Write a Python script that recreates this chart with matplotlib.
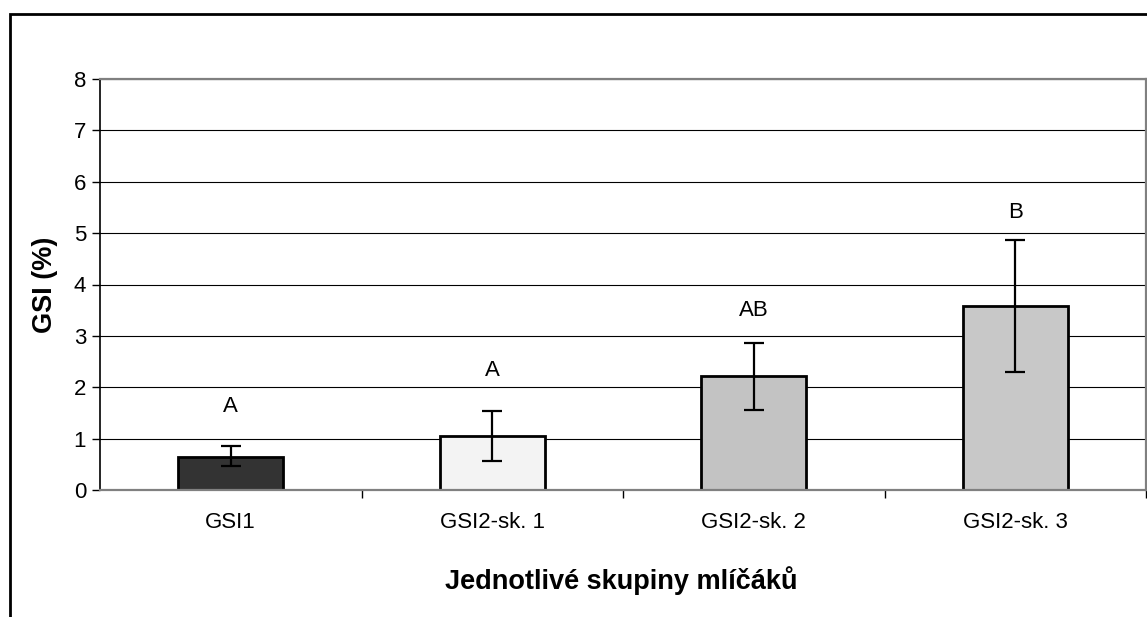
import matplotlib.pyplot as plt
import matplotlib.patches as patches
import numpy as np

plt.rcParams['font.family'] = ['Liberation Sans', 'DejaVu Sans']

groups = ["GSI1", "GSI2-sk. 1", "GSI2-sk. 2", "GSI2-sk. 3"]
gsi = [0.65, 1.05, 2.22, 3.59]
err_low = [0.47, 0.57, 1.56, 2.30]
err_high = [0.86, 1.53, 2.87, 4.87]
letters = ["A", "A", "AB", "B"]
letter_y = [1.63, 2.32, 3.49, 5.40]

bar_colors = ["#333333", "#f3f3f3", "#c3c3c3", "#c8c8c8"]

fig = plt.figure(figsize=(11.47, 6.17), dpi=100)
ax = fig.add_axes([100 / 1147, 1 - 490 / 617, 1046 / 1147, 411 / 617])

x = np.arange(len(groups)) + 0.5
gsi = np.array(gsi)
yerr = np.array([gsi - np.array(err_low), np.array(err_high) - gsi])

ax.set_axisbelow(True)
ax.yaxis.grid(True, color="black", linewidth=0.8)
ax.bar(x, gsi, width=0.40, color=bar_colors, edgecolor="black", linewidth=2.0, zorder=2)
ax.errorbar(x, gsi, yerr=yerr, fmt="none", ecolor="black", elinewidth=1.6,
            capsize=7, capthick=1.6, zorder=3)

for xi, t, yy in zip(x, letters, letter_y):
    ax.text(xi, yy, t, ha="center", va="center", fontsize=16)

ax.set_xlim(0, 4)
ax.set_ylim(0, 8)
ax.set_yticks(range(0, 9))
ax.tick_params(axis="y", labelsize=16, length=6, width=1, pad=4, direction="out")

# kategorie na vedlejsich znackach, hlavni znacky mezi sloupci
ax.set_xticks([1, 2, 3, 4])
ax.set_xticklabels([])
ax.tick_params(axis="x", which="major", length=6, width=1, direction="out")
ax.set_xticks(x, minor=True)
ax.set_xticklabels(groups, minor=True)
ax.tick_params(axis="x", which="minor", length=0, labelsize=16, pad=16)

ax.spines["left"].set_color("black")
ax.spines["left"].set_linewidth(1.2)
for s in ["top", "right", "bottom"]:
    ax.spines[s].set_color("#808080")
    ax.spines[s].set_linewidth(1.6)

fig.text(45 / 1147, 1 - 285 / 617, "GSI (%)", rotation=90, ha="center", va="center",
         fontsize=19.5, fontweight="bold")
fig.text(621 / 1147, 1 - 581 / 617, "Jednotlivé skupiny mlíčáků", ha="center", va="center",
         fontsize=19.5, fontweight="bold")

# ramecek kolem celeho grafu
frame = patches.Rectangle((10 / 1147, -0.1), 1.2, 1 - 14 / 617 + 0.1,
                          transform=fig.transFigure, fill=False, edgecolor="black",
                          linewidth=2.0, clip_on=False)
fig.patches.append(frame)

fig.savefig("out.png", dpi=100)
